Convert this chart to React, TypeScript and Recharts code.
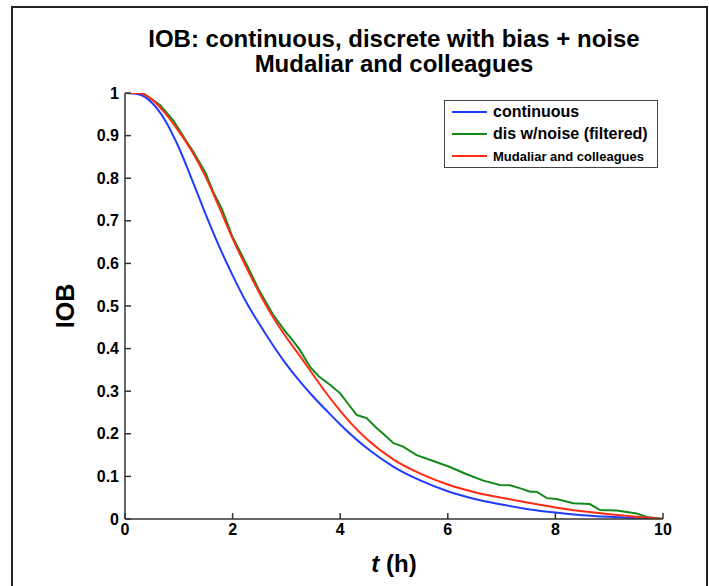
import { LineChart, Line, XAxis, YAxis, Legend } from "recharts";

const FONT = "'Liberation Sans', Arial, Helvetica, sans-serif";

// time grid (h) shared by continuous and Mudaliar curves
const contT = [0, 0.25, 0.5, 0.75, 1, 1.25, 1.5, 1.75, 2, 2.25, 2.5, 2.75, 3, 3.25, 3.5, 3.75, 4, 4.5, 5, 5.5, 6, 6.5, 7, 7.5, 8, 8.5, 9, 9.5, 10];
const contV = [1.0, 0.997, 0.977, 0.935, 0.872, 0.795, 0.715, 0.64, 0.572, 0.51, 0.457, 0.408, 0.363, 0.323, 0.287, 0.254, 0.222, 0.166, 0.122, 0.09, 0.065, 0.047, 0.034, 0.023, 0.015, 0.009, 0.005, 0.002, 0];
const mudV = [1.0, 1.0, 0.985, 0.952, 0.91, 0.862, 0.803, 0.732, 0.658, 0.592, 0.53, 0.474, 0.426, 0.383, 0.338, 0.294, 0.254, 0.187, 0.139, 0.106, 0.081, 0.063, 0.05, 0.038, 0.027, 0.018, 0.011, 0.005, 0];

// discrete w/ noise (filtered) is sampled irregularly
const disT = [0, 0.33, 0.65, 0.9, 1.15, 1.27, 1.5, 1.64, 1.8, 2.0, 2.25, 2.5, 2.75, 3.0, 3.07, 3.25, 3.44, 3.6, 3.81, 4.0, 4.15, 4.31, 4.49, 4.68, 4.8, 4.99, 5.17, 5.42, 5.73, 6.04, 6.35, 6.66, 6.97, 7.16, 7.35, 7.53, 7.65, 7.84, 8.02, 8.33, 8.64, 8.83, 9.14, 9.51, 9.7, 10];
const disV = [1.0, 1.0, 0.972, 0.935, 0.885, 0.862, 0.812, 0.768, 0.728, 0.662, 0.6, 0.535, 0.48, 0.437, 0.427, 0.397, 0.357, 0.335, 0.315, 0.295, 0.27, 0.244, 0.237, 0.213, 0.2, 0.178, 0.17, 0.15, 0.136, 0.122, 0.105, 0.09, 0.08, 0.079, 0.072, 0.064, 0.064, 0.049, 0.047, 0.037, 0.035, 0.021, 0.02, 0.013, 0.005, 0];

const xTicks = [0, 2, 4, 6, 8, 10];
const yTicks = [0, 0.1, 0.2, 0.3, 0.4, 0.5, 0.6, 0.7, 0.8, 0.9, 1];

const seriesNames = ["continuous", "dis w/noise (filtered)", "Mudaliar and colleagues"];
const seriesColors = ["#1f3cff", "#12891a", "#ff2b12"];
const legendSizes = [16, 16, 13];

const contData = contT.map((t, i) => ({ t, v: contV[i] }));
const mudData = contT.map((t, i) => ({ t, v: mudV[i] }));
const disData = disT.map((t, i) => ({ t, v: disV[i] }));

const tickStyle = { fontFamily: FONT, fontWeight: "bold", fontSize: 16, fill: "#000" };
const axisColor = "#333";

const fmtY = (v: number) => (v === 0 ? "0" : v === 1 ? "1" : v.toFixed(1));

function LegendBox({ payload }: any) {
  const items = (payload || [])
    .slice()
    .sort((a: any, b: any) => seriesNames.indexOf(a.value) - seriesNames.indexOf(b.value));
  return (
    <div
      style={{
        border: "1px solid #444",
        background: "#fff",
        fontFamily: FONT,
        fontWeight: "bold",
        color: "#000",
      }}
    >
      {items.map((p: any) => {
        const idx = seriesNames.indexOf(p.value);
        return (
          <div key={p.value} style={{ height: 22, display: "flex", alignItems: "center" }}>
            <span style={{ marginLeft: 7, width: 35, height: 0, borderTop: `2px solid ${p.color}` }} />
            <span style={{ marginLeft: 6, fontSize: legendSizes[idx], whiteSpace: "nowrap" }}>{p.value}</span>
          </div>
        );
      })}
    </div>
  );
}

export default function App() {
  return (
    <div style={{ position: "absolute", left: 0, top: 0, width: 709, height: 586, overflow: "hidden", background: "#fff" }}>
      <div
        style={{
          position: "absolute",
          left: 11,
          top: 6,
          width: 693,
          height: 620,
          borderLeft: "2px solid #222",
          borderTop: "2px solid #222",
          borderRight: "2px solid #222",
        }}
      />
      <div
        style={{
          position: "absolute",
          left: 94,
          width: 600,
          top: 26,
          textAlign: "center",
          fontFamily: FONT,
          fontWeight: "bold",
          fontSize: 24,
          lineHeight: "25px",
          color: "#000",
        }}
      >
        <div>IOB: continuous, discrete with bias + noise</div>
        <div>Mudaliar and colleagues</div>
      </div>
      <div style={{ position: "absolute", left: 0, top: 0 }}>
        <LineChart width={709} height={586} margin={{ top: 93, right: 46, left: 0, bottom: 0 }}>
          <XAxis
            dataKey="t"
            type="number"
            domain={[0, 10]}
            ticks={xTicks}
            interval={0}
            height={67}
            tickSize={-6}
            tickMargin={11}
            tick={tickStyle}
            stroke={axisColor}
            strokeWidth={1.5}
            allowDuplicatedCategory={false}
            label={{
              content: ({ viewBox }: any) => (
                <text
                  x={viewBox.x + viewBox.width / 2}
                  y={viewBox.y + 53}
                  textAnchor="middle"
                  fontFamily={FONT}
                  fontWeight="bold"
                  fontSize={24}
                  fill="#000"
                >
                  <tspan fontStyle="italic">t</tspan> (h)
                </text>
              ),
            }}
          />
          <XAxis
            xAxisId="top"
            orientation="top"
            type="number"
            domain={[0, 10]}
            ticks={xTicks}
            interval={0}
            height={0}
            tickSize={-6}
            tickFormatter={() => ""}
            stroke={axisColor}
            strokeWidth={1.5}
          />
          <YAxis
            type="number"
            domain={[0, 1]}
            ticks={yTicks}
            interval={0}
            width={125}
            tickSize={-6}
            tickMargin={12}
            tick={tickStyle}
            tickFormatter={fmtY}
            stroke={axisColor}
            strokeWidth={1.5}
            allowDataOverflow
            label={{
              content: ({ viewBox }: any) => {
                const cx = viewBox.x + 65;
                const cy = viewBox.y + viewBox.height / 2;
                return (
                  <text
                    x={cx}
                    y={cy}
                    transform={`rotate(-90 ${cx} ${cy})`}
                    textAnchor="middle"
                    dominantBaseline="central"
                    fontFamily={FONT}
                    fontWeight="bold"
                    fontSize={25}
                    fill="#000"
                  >
                    IOB
                  </text>
                );
              },
            }}
          />
          <YAxis
            yAxisId="right"
            orientation="right"
            type="number"
            domain={[0, 1]}
            ticks={yTicks}
            interval={0}
            width={0}
            tickSize={-6}
            tickFormatter={() => ""}
            stroke={axisColor}
            strokeWidth={1.5}
          />
          <Legend
            layout="horizontal"
            verticalAlign="middle"
            align="center"
            wrapperStyle={{ left: 444, top: 100, width: 214 }}
            content={<LegendBox />}
          />
          <Line
            data={contData}
            dataKey="v"
            name={seriesNames[0]}
            type="monotone"
            stroke={seriesColors[0]}
            strokeWidth={2}
            dot={false}
            isAnimationActive={false}
          />
          <Line
            data={disData}
            dataKey="v"
            name={seriesNames[1]}
            type="linear"
            stroke={seriesColors[1]}
            strokeWidth={2}
            dot={false}
            isAnimationActive={false}
          />
          <Line
            data={mudData}
            dataKey="v"
            name={seriesNames[2]}
            type="monotone"
            stroke={seriesColors[2]}
            strokeWidth={2}
            dot={false}
            isAnimationActive={false}
          />
        </LineChart>
      </div>
    </div>
  );
}
